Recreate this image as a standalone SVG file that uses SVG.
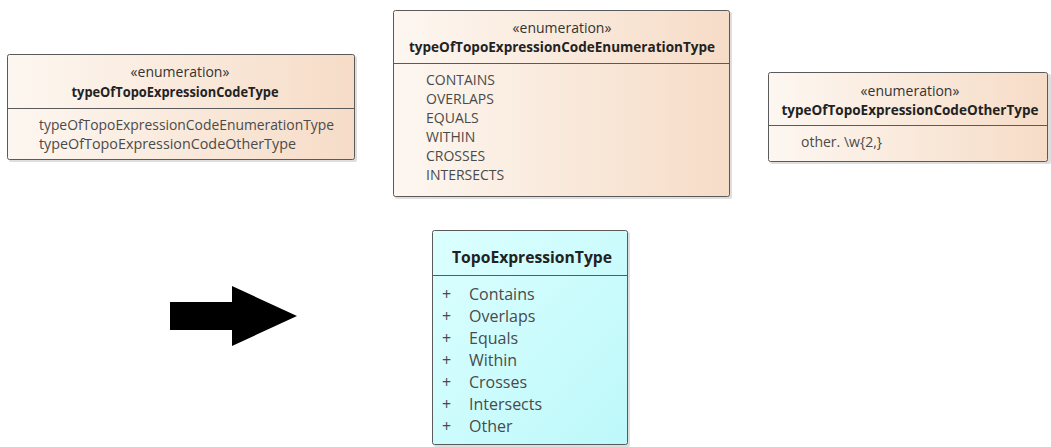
<svg xmlns="http://www.w3.org/2000/svg" width="1051" height="447" viewBox="0 0 1051 447">
<style>
.box{stroke:#5a5a5a;stroke-width:1;}
.shadow{fill:#c8c8c8;opacity:0.6;}
.div{stroke:#5a5a5a;stroke-width:1;}
.st{font-family:"Open Sans","Liberation Sans",sans-serif;font-size:14px;fill:#333;text-anchor:middle;}
.ti{font-family:"Open Sans","Liberation Sans",sans-serif;font-size:14px;font-weight:bold;fill:#222;text-anchor:middle;}
.it{font-family:"Open Sans","Liberation Sans",sans-serif;font-size:14px;fill:#4a4a4a;}
.ti4{font-family:"Open Sans","Liberation Sans",sans-serif;font-size:16px;font-weight:bold;fill:#222;text-anchor:middle;}
.it4{font-family:"Open Sans","Liberation Sans",sans-serif;font-size:16px;fill:#4a4a4a;}
</style>
<defs>
<linearGradient id="peach" x1="0" y1="0" x2="1" y2="0">
<stop offset="0" stop-color="#fdf7f1"/>
<stop offset="1" stop-color="#f6dcc7"/>
</linearGradient>
<linearGradient id="cyan" x1="0" y1="0" x2="1" y2="1">
<stop offset="0" stop-color="#dcffff"/>
<stop offset="1" stop-color="#bdf8fa"/>
</linearGradient>
</defs>

<g id="typeOfTopoExpressionCodeType">
<rect class="shadow" x="9" y="56" width="348" height="106" rx="2"/>
<rect class="box" x="7.5" y="54.5" width="347" height="105" rx="2" fill="url(#peach)"/>
<line class="div" x1="7.5" y1="108.5" x2="354.5" y2="108.5"/>
<text class="st" x="180" y="77">«enumeration»</text>
<text class="ti" x="175" y="97" textLength="207" lengthAdjust="spacingAndGlyphs">typeOfTopoExpressionCodeType</text>
<text class="it" x="39" y="130" textLength="295" lengthAdjust="spacingAndGlyphs">typeOfTopoExpressionCodeEnumerationType</text>
<text class="it" x="39" y="149" textLength="257" lengthAdjust="spacingAndGlyphs">typeOfTopoExpressionCodeOtherType</text>
</g>

<g id="typeOfTopoExpressionCodeEnumerationType">
<rect class="shadow" x="395" y="12" width="337" height="187" rx="2"/>
<rect class="box" x="393.5" y="10.5" width="336" height="186" rx="2" fill="url(#peach)"/>
<line class="div" x1="393.5" y1="63.5" x2="729.5" y2="63.5"/>
<text class="st" x="562" y="33">«enumeration»</text>
<text class="ti" x="562" y="52" textLength="306" lengthAdjust="spacingAndGlyphs">typeOfTopoExpressionCodeEnumerationType</text>
<text class="it" x="426" y="85">CONTAINS</text>
<text class="it" x="426" y="104">OVERLAPS</text>
<text class="it" x="426" y="123">EQUALS</text>
<text class="it" x="426" y="142">WITHIN</text>
<text class="it" x="426" y="161">CROSSES</text>
<text class="it" x="426" y="180">INTERSECTS</text>
</g>

<g id="typeOfTopoExpressionCodeOtherType">
<rect class="shadow" x="770" y="74" width="281" height="90" rx="2"/>
<rect class="box" x="768.5" y="72.5" width="279" height="89" rx="2" fill="url(#peach)"/>
<line class="div" x1="768.5" y1="125.5" x2="1047.5" y2="125.5"/>
<text class="st" x="910" y="96">«enumeration»</text>
<text class="ti" x="910" y="115" textLength="257" lengthAdjust="spacingAndGlyphs">typeOfTopoExpressionCodeOtherType</text>
<text class="it" x="801" y="147">other. \w{2,}</text>
</g>

<g id="TopoExpressionType">
<rect class="shadow" x="434" y="232" width="196" height="215" rx="2"/>
<rect class="box" x="432.5" y="230.5" width="195" height="214" rx="2" fill="url(#cyan)"/>
<line class="div" x1="432.5" y1="275.5" x2="627.5" y2="275.5"/>
<text class="ti4" x="532" y="263" textLength="160" lengthAdjust="spacingAndGlyphs">TopoExpressionType</text>
<text class="it4" x="442" y="300">+</text><text class="it4" x="469" y="300">Contains</text>
<text class="it4" x="442" y="322">+</text><text class="it4" x="469" y="322">Overlaps</text>
<text class="it4" x="442" y="344">+</text><text class="it4" x="469" y="344">Equals</text>
<text class="it4" x="442" y="366">+</text><text class="it4" x="469" y="366">Within</text>
<text class="it4" x="442" y="388">+</text><text class="it4" x="469" y="388">Crosses</text>
<text class="it4" x="442" y="410">+</text><text class="it4" x="469" y="410">Intersects</text>
<text class="it4" x="442" y="432">+</text><text class="it4" x="469" y="432">Other</text>
</g>

<g id="connectors">
<polygon points="170,302 232,302 232,286 297,316 232,346 232,330 170,330" fill="#000"/>
</g>
</svg>
